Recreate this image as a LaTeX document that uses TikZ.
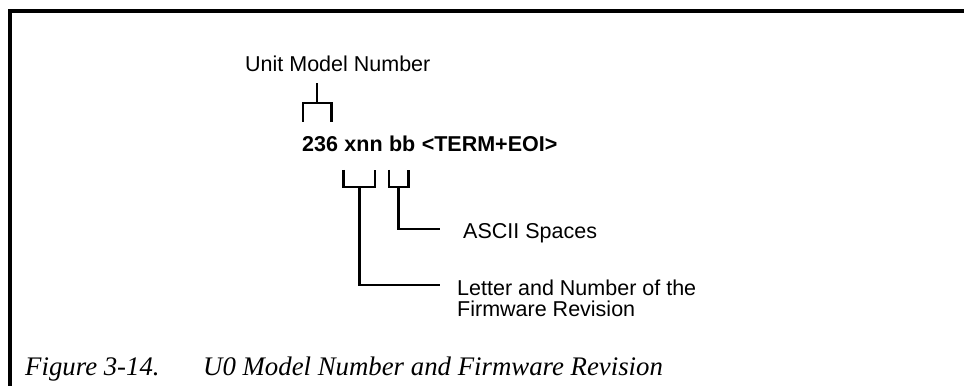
\documentclass[tikz,border=0pt]{standalone}
\usepackage{fontspec}
\newfontfamily\helvfont{Liberation Sans}
\newfontfamily\capfont{Liberation Serif}
\usetikzlibrary{calc,positioning}
\tikzset{
  lbl/.style={font=\helvfont\fontsize{21.5}{21}\selectfont,inner sep=0pt,align=left},
  code/.style={font=\helvfont\bfseries\fontsize{21.5}{21}\selectfont,inner sep=0pt,anchor=base west},
  capt/.style={font=\capfont\itshape\fontsize{26.8}{28}\selectfont,inner sep=0pt,anchor=base west},
  brk/.style={line width=2.6pt},
  frame/.style={line width=3.5pt}
}
\begin{document}
\begin{tikzpicture}[x=1pt,y=1pt]
  \useasboundingbox (0,0) rectangle (964,386);
  \draw[frame] (964,375) -- (10,375) -- (10,0);

  \node[lbl,anchor=base west] (unit) at (245,314) {Unit Model Number};

  \node[code] (num) at (302,234) {236};
  \node[code,base right=6pt of num] (xnn) {xnn};
  \node[code,base right=6pt of xnn] (bb) {bb};
  \node[code,base right=6pt of bb] (term) {<TERM+EOI>};

  \node[lbl,anchor=base west] (spc) at (463,147) {ASCII Spaces};
  \node[lbl,anchor=north west] (rev) at (457,106) {Letter and Number of the\\Firmware Revision};

  % model number bracket
  \draw[brk] ([shift={(1,30)}]num.base west) |- ([shift={(-7,49)}]num.base east) -- ([shift={(-7,30)}]num.base east);
  \draw[brk] ([shift={(-3,49)}]num.base) -- ([shift={(-3,69)}]num.base);

  % firmware revision bracket
  \draw[brk] ([shift={(-1,-18)}]xnn.base west) |- ([shift={(-8,-35)}]xnn.base east) -- ([shift={(-8,-18)}]xnn.base east);
  \draw[brk] ([shift={(-4,-35)}]xnn.base) |- ([shift={(-17,-5)}]rev.north west);

  % spaces bracket
  \draw[brk] ([shift={(0,-18)}]bb.base west) |- ([shift={(-7,-35)}]bb.base east) -- ([shift={(-7,-18)}]bb.base east);
  \draw[brk] ([shift={(-4,-35)}]bb.base) |- ([shift={(-23,10)}]spc.base west);

  \node[capt] (fig) at (25,11) {Figure 3-14.};
  \node[capt] (title) at (203,11) {U0 Model Number and Firmware Revision};
\end{tikzpicture}
\end{document}
